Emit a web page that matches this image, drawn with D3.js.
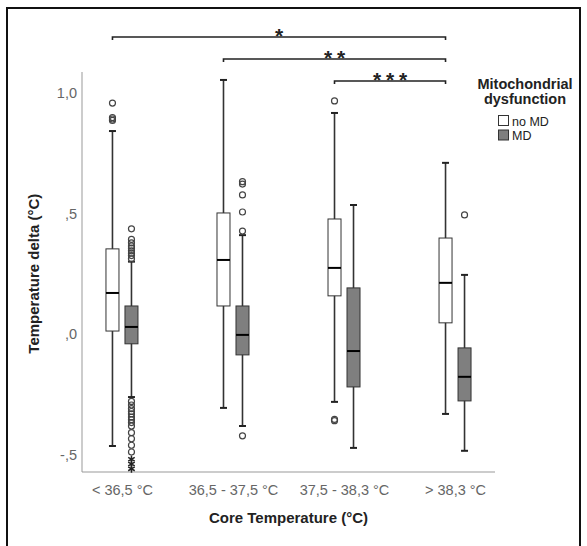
<!DOCTYPE html>
<html>
<head>
<meta charset="utf-8">
<script src="https://cdn.jsdelivr.net/npm/d3@7"></script>
<style>
  html, body { margin: 0; padding: 0; background: #fff; }
  svg { display: block; font-family: "Liberation Sans", Arial, sans-serif; }
</style>
</head>
<body>
<svg id="chart" width="587" height="546"></svg>
<script>
// ---------- DATA ----------
const categories = ["< 36,5 °C", "36,5 - 37,5 °C", "37,5 - 38,3 °C", "> 38,3 °C"];
const series = ["no MD", "MD"];
const yTickValues = [-0.5, 0, 0.5, 1.0];
const yTickLabels = ["-,5", ",0", ",5", "1,0"];

// no MD box statistics per category
const noMDLow    = [-0.465, -0.307, -0.282, -0.332];
const noMDQ1     = [0.012, 0.116, 0.158, 0.046];
const noMDMedian = [0.170, 0.307, 0.274, 0.212];
const noMDQ3     = [0.353, 0.502, 0.477, 0.398];
const noMDHigh   = [0.842, 1.054, 0.917, 0.710];
const noMDOutliers = [[0.958, 0.898, 0.892, 0.886], [], [0.967, -0.355, -0.360], []];
const noMDExtremes = [[], [], [], []];

// MD box statistics per category
const mdLow    = [-0.262, -0.382, -0.473, -0.485];
const mdQ1     = [-0.041, -0.087, -0.220, -0.278];
const mdMedian = [0.029, -0.004, -0.071, -0.178];
const mdQ3     = [0.116, 0.116, 0.191, -0.058];
const mdHigh   = [0.300, 0.410, 0.535, 0.245];
const mdOutliers = [
  [0.436, 0.392, 0.378, 0.365, 0.356, 0.345, 0.335, 0.325, 0.312,
   -0.280, -0.295, -0.310, -0.322, -0.332, -0.345, -0.356, -0.368, -0.382, -0.410, -0.435, -0.462, -0.490],
  [0.632, 0.622, 0.577, 0.506, 0.427, -0.423],
  [],
  [0.494]
];
const mdExtremes = [[-0.520, -0.540, -0.560], [], [], []];

// significance brackets: from category index -> to category index, label
const sigFrom = [0, 1, 2];
const sigTo = [3, 3, 3];
const sigLabels = ["*", "**", "***"];

// ---------- LAYOUT ----------
const svg = d3.select("#chart");
const plotLeft = 82, plotRight = 495, plotTop = 72, plotBottom = 472;

svg.append("rect").attr("x", 7).attr("y", 8).attr("width", 573).attr("height", 545)
  .attr("fill", "none").attr("stroke", "#111").attr("stroke-width", 2);

const y = d3.scaleLinear().domain([-0.573, 1.087]).range([plotBottom, plotTop]);
const x = d3.scalePoint().domain(categories).range([plotLeft, plotRight]).padding(0.36);
const xs = d3.scalePoint().domain(series).range([-9.5, 9.5]);
const boxW = 13, capW = 7;

// axes
const yAxis = d3.axisLeft(y).tickValues(yTickValues).tickSize(0).tickPadding(5)
  .tickFormat((d, i) => yTickLabels[i]);
const gy = svg.append("g").attr("transform", `translate(${plotLeft},0)`).call(yAxis);
gy.select(".domain").remove();
gy.selectAll("text").attr("fill", "#666").style("font-size", "14.5px");

const xAxis = d3.axisBottom(x).tickSize(0).tickPadding(13);
const gx = svg.append("g").attr("transform", `translate(0,${plotBottom})`).call(xAxis);
gx.select(".domain").remove();
gx.selectAll("text").attr("fill", "#666").style("font-size", "14.5px");

svg.append("line").attr("x1", plotLeft).attr("x2", plotLeft).attr("y1", plotTop).attr("y2", plotBottom)
  .attr("stroke", "#999").attr("stroke-width", 1);
svg.append("line").attr("x1", plotLeft).attr("x2", plotRight).attr("y1", plotBottom).attr("y2", plotBottom)
  .attr("stroke", "#999").attr("stroke-width", 1);

// axis titles
svg.append("text").attr("x", (plotLeft + plotRight) / 2).attr("y", 523)
  .attr("text-anchor", "middle").attr("font-weight", "bold").style("font-size", "15px").attr("fill", "#222")
  .text("Core Temperature (°C)");
svg.append("text").attr("transform", `translate(39,${y(0.25)}) rotate(-90)`)
  .attr("text-anchor", "middle").attr("font-weight", "bold").style("font-size", "15px").attr("fill", "#222")
  .text("Temperature delta (°C)");

// boxes
const stats = {
  "no MD": { low: noMDLow, q1: noMDQ1, med: noMDMedian, q3: noMDQ3, high: noMDHigh, out: noMDOutliers, ext: noMDExtremes, fill: "#ffffff" },
  "MD":    { low: mdLow, q1: mdQ1, med: mdMedian, q3: mdQ3, high: mdHigh, out: mdOutliers, ext: mdExtremes, fill: "#7f7f7f" }
};
const starType = d3.symbolAsterisk || d3.symbolCross;
const starPath = d3.symbol().type(starType).size(40);

series.forEach(s => {
  const st = stats[s];
  categories.forEach((c, i) => {
    const cx = x(c) + xs(s);
    const g = svg.append("g");
    g.append("line").attr("x1", cx).attr("x2", cx).attr("y1", y(st.low[i])).attr("y2", y(st.high[i]))
      .attr("stroke", "#333").attr("stroke-width", 1.6);
    [st.low[i], st.high[i]].forEach(v => {
      g.append("line").attr("x1", cx - capW / 2).attr("x2", cx + capW / 2).attr("y1", y(v)).attr("y2", y(v))
        .attr("stroke", "#222").attr("stroke-width", 2);
    });
    g.append("rect").attr("x", cx - boxW / 2).attr("width", boxW)
      .attr("y", y(st.q3[i])).attr("height", y(st.q1[i]) - y(st.q3[i]))
      .attr("fill", st.fill).attr("stroke", "#333").attr("stroke-width", 1);
    g.append("line").attr("x1", cx - boxW / 2).attr("x2", cx + boxW / 2)
      .attr("y1", y(st.med[i])).attr("y2", y(st.med[i])).attr("stroke", "#000").attr("stroke-width", 2);
    g.selectAll("circle").data(st.out[i]).join("circle")
      .attr("cx", cx).attr("cy", d => y(d)).attr("r", 3)
      .attr("fill", "none").attr("stroke", "#444").attr("stroke-width", 1.2);
    g.selectAll("path.ext").data(st.ext[i]).join("path").attr("class", "ext")
      .attr("transform", d => `translate(${cx},${y(d)})`).attr("d", starPath)
      .attr("fill", "#222").attr("stroke", "#222").attr("stroke-width", 1.5);
  });
});

// significance brackets
const levels = [37, 59, 81];
sigLabels.forEach((lab, k) => {
  const x1 = x(categories[sigFrom[k]]) + xs("no MD");
  const x2 = x(categories[sigTo[k]]) + xs("no MD");
  const ly = levels[k];
  svg.append("path").attr("d", `M${x1},${ly + 3}V${ly}H${x2}V${ly + 3}`)
    .attr("fill", "none").attr("stroke", "#222").attr("stroke-width", 1.6);
  const mid = (x1 + x2) / 2;
  const n = lab.length;
  for (let j = 0; j < n; j++) {
    svg.append("text").attr("x", mid + (j - (n - 1) / 2) * 13).attr("y", ly + 6)
      .attr("text-anchor", "middle").attr("font-weight", "bold").style("font-size", "21px").attr("fill", "#222")
      .text("*");
  }
});

// legend
const lg = svg.append("g");
lg.append("text").attr("x", 525).attr("y", 89).attr("text-anchor", "middle")
  .attr("font-weight", "bold").style("font-size", "14.5px").attr("fill", "#222").text("Mitochondrial");
lg.append("text").attr("x", 525).attr("y", 104).attr("text-anchor", "middle")
  .attr("font-weight", "bold").style("font-size", "14.5px").attr("fill", "#222").text("dysfunction");
series.forEach((s, i) => {
  lg.append("rect").attr("x", 498.5).attr("y", 115.5 + i * 14.5).attr("width", 10).attr("height", 10)
    .attr("fill", stats[s].fill).attr("stroke", "#333").attr("stroke-width", 1);
  lg.append("text").attr("x", 512).attr("y", 125.5 + i * 14.5)
    .style("font-size", "12.5px").attr("fill", "#222").text(s);
});
</script>
</body>
</html>
